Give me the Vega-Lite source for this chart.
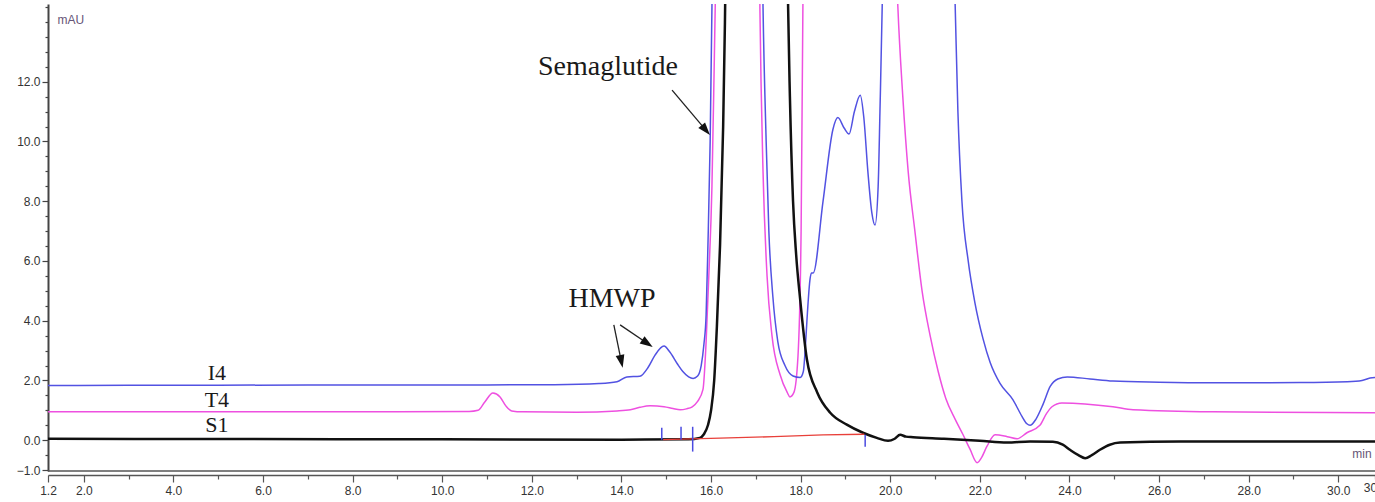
{
  "$schema": "https://vega.github.io/schema/vega-lite/v6.json",
  "width": 1327,
  "height": 467,
  "autosize": {"type": "none"},
  "padding": {"left": 48, "top": 4, "right": 0, "bottom": 31},
  "background": "white",
  "config": {"view": {"stroke": null}, "axis": {"labelOverlap": false, "labelFlush": false, "labelBound": false}},
  "resolve": {"axis": {"y": "independent"}},
  "datasets": {
    "I4": [
      {"t": 1.2, "v": 1.83}, {"t": 3.0, "v": 1.84}, {"t": 5.0, "v": 1.84}, {"t": 7.0, "v": 1.85}, {"t": 9.0, "v": 1.85},
      {"t": 11.0, "v": 1.85}, {"t": 12.5, "v": 1.86}, {"t": 13.5, "v": 1.9}, {"t": 13.9, "v": 1.96}, {"t": 14.12, "v": 2.12},
      {"t": 14.41, "v": 2.14}, {"t": 14.6, "v": 2.45}, {"t": 14.75, "v": 2.85}, {"t": 14.95, "v": 3.15}, {"t": 15.08, "v": 2.95},
      {"t": 15.25, "v": 2.55}, {"t": 15.37, "v": 2.3}, {"t": 15.5, "v": 2.12}, {"t": 15.6, "v": 2.07}, {"t": 15.7, "v": 2.15},
      {"t": 15.78, "v": 2.5}, {"t": 15.84, "v": 3.2}, {"t": 15.89, "v": 4.2}, {"t": 15.93, "v": 6.5}, {"t": 15.98, "v": 10.0},
      {"t": 16.02, "v": 14.5}, {"t": 16.15, "v": 40}, {"t": 16.6, "v": 60}, {"t": 17.0, "v": 40}, {"t": 17.16, "v": 14.5},
      {"t": 17.23, "v": 10.0}, {"t": 17.29, "v": 7.0}, {"t": 17.38, "v": 4.8}, {"t": 17.49, "v": 3.3}, {"t": 17.65, "v": 2.5},
      {"t": 17.83, "v": 2.15}, {"t": 17.99, "v": 2.1}, {"t": 18.06, "v": 2.3}, {"t": 18.1, "v": 3.0}, {"t": 18.14, "v": 4.0},
      {"t": 18.21, "v": 5.4}, {"t": 18.24, "v": 5.6}, {"t": 18.28, "v": 5.6}, {"t": 18.5, "v": 8.0}, {"t": 18.72, "v": 10.4},
      {"t": 18.83, "v": 10.8}, {"t": 18.97, "v": 10.45}, {"t": 19.08, "v": 10.25}, {"t": 19.2, "v": 11.0}, {"t": 19.33, "v": 11.55},
      {"t": 19.41, "v": 10.8}, {"t": 19.5, "v": 9.0}, {"t": 19.59, "v": 7.6}, {"t": 19.66, "v": 7.2}, {"t": 19.73, "v": 8.5},
      {"t": 19.77, "v": 11.0}, {"t": 19.82, "v": 14.5}, {"t": 20.0, "v": 40}, {"t": 21.0, "v": 40}, {"t": 21.45, "v": 14.5},
      {"t": 21.51, "v": 11.0}, {"t": 21.6, "v": 8.0}, {"t": 21.74, "v": 6.0}, {"t": 21.89, "v": 4.6}, {"t": 22.07, "v": 3.4},
      {"t": 22.23, "v": 2.6}, {"t": 22.45, "v": 1.9}, {"t": 22.74, "v": 1.35}, {"t": 22.94, "v": 0.8}, {"t": 23.05, "v": 0.55},
      {"t": 23.12, "v": 0.5}, {"t": 23.25, "v": 0.7}, {"t": 23.41, "v": 1.2}, {"t": 23.57, "v": 1.8}, {"t": 23.74, "v": 2.05},
      {"t": 23.95, "v": 2.12}, {"t": 24.46, "v": 2.05}, {"t": 24.97, "v": 1.98}, {"t": 26.0, "v": 1.94}, {"t": 27.2, "v": 1.92},
      {"t": 29.15, "v": 1.93}, {"t": 30.2, "v": 1.96}, {"t": 30.53, "v": 2.0}, {"t": 30.71, "v": 2.08}, {"t": 30.82, "v": 2.1}
    ],
    "T4": [
      {"t": 1.2, "v": 0.95}, {"t": 5.0, "v": 0.95}, {"t": 9.0, "v": 0.95}, {"t": 10.6, "v": 0.96}, {"t": 10.8, "v": 1.0},
      {"t": 10.95, "v": 1.28}, {"t": 11.13, "v": 1.58}, {"t": 11.29, "v": 1.45}, {"t": 11.42, "v": 1.15}, {"t": 11.55, "v": 0.98},
      {"t": 11.8, "v": 0.95}, {"t": 13.0, "v": 0.94}, {"t": 13.9, "v": 0.98}, {"t": 14.2, "v": 1.02}, {"t": 14.41, "v": 1.1},
      {"t": 14.64, "v": 1.15}, {"t": 14.95, "v": 1.12}, {"t": 15.15, "v": 1.06}, {"t": 15.31, "v": 1.02}, {"t": 15.45, "v": 1.05},
      {"t": 15.58, "v": 1.12}, {"t": 15.7, "v": 1.3}, {"t": 15.82, "v": 1.7}, {"t": 15.89, "v": 3.3}, {"t": 15.95, "v": 5.5},
      {"t": 16.02, "v": 8.5}, {"t": 16.07, "v": 12.5}, {"t": 16.11, "v": 16}, {"t": 16.4, "v": 60}, {"t": 16.9, "v": 60},
      {"t": 17.09, "v": 14.5}, {"t": 17.16, "v": 9.0}, {"t": 17.25, "v": 5.5}, {"t": 17.36, "v": 3.5}, {"t": 17.54, "v": 2.2},
      {"t": 17.7, "v": 1.6}, {"t": 17.76, "v": 1.45}, {"t": 17.85, "v": 1.6}, {"t": 17.94, "v": 2.8}, {"t": 18.01, "v": 7.0},
      {"t": 18.05, "v": 14.5}, {"t": 18.4, "v": 40}, {"t": 19.8, "v": 40}, {"t": 20.17, "v": 14.5}, {"t": 20.28, "v": 11.5},
      {"t": 20.4, "v": 9.0}, {"t": 20.55, "v": 7.0}, {"t": 20.71, "v": 5.0}, {"t": 20.89, "v": 3.5}, {"t": 21.07, "v": 2.3},
      {"t": 21.24, "v": 1.4}, {"t": 21.45, "v": 0.7}, {"t": 21.62, "v": 0.2}, {"t": 21.78, "v": -0.3}, {"t": 21.94, "v": -0.75},
      {"t": 22.03, "v": -0.6}, {"t": 22.16, "v": -0.2}, {"t": 22.34, "v": 0.18}, {"t": 22.61, "v": 0.12}, {"t": 22.83, "v": 0.05},
      {"t": 23.05, "v": 0.25}, {"t": 23.34, "v": 0.5}, {"t": 23.49, "v": 0.9}, {"t": 23.61, "v": 1.12}, {"t": 23.83, "v": 1.25},
      {"t": 24.97, "v": 1.12}, {"t": 25.42, "v": 1.02}, {"t": 27.2, "v": 0.95}, {"t": 30.82, "v": 0.92}
    ],
    "S1": [
      {"t": 1.2, "v": 0.05}, {"t": 5.0, "v": 0.04}, {"t": 10.0, "v": 0.03}, {"t": 14.0, "v": 0.02}, {"t": 15.5, "v": 0.03},
      {"t": 15.75, "v": 0.08}, {"t": 15.84, "v": 0.2}, {"t": 15.93, "v": 0.5}, {"t": 16.0, "v": 1.0}, {"t": 16.07, "v": 2.0},
      {"t": 16.13, "v": 3.8}, {"t": 16.2, "v": 6.5}, {"t": 16.27, "v": 10.5}, {"t": 16.31, "v": 14}, {"t": 16.36, "v": 20},
      {"t": 16.6, "v": 80}, {"t": 17.0, "v": 120}, {"t": 17.5, "v": 80}, {"t": 17.68, "v": 20}, {"t": 17.72, "v": 14.5},
      {"t": 17.76, "v": 11.5}, {"t": 17.83, "v": 8.0}, {"t": 17.9, "v": 6.2}, {"t": 17.99, "v": 4.7}, {"t": 18.14, "v": 2.7},
      {"t": 18.37, "v": 1.6}, {"t": 18.66, "v": 0.92}, {"t": 19.03, "v": 0.52}, {"t": 19.39, "v": 0.25}, {"t": 19.7, "v": 0.08},
      {"t": 19.95, "v": -0.02}, {"t": 20.1, "v": 0.05}, {"t": 20.22, "v": 0.18}, {"t": 20.35, "v": 0.12}, {"t": 20.51, "v": 0.1},
      {"t": 21.2, "v": 0.05}, {"t": 22.0, "v": -0.02}, {"t": 22.61, "v": -0.08}, {"t": 23.12, "v": -0.04}, {"t": 23.63, "v": -0.05},
      {"t": 23.85, "v": -0.15}, {"t": 24.01, "v": -0.32}, {"t": 24.2, "v": -0.5}, {"t": 24.35, "v": -0.6}, {"t": 24.5, "v": -0.5},
      {"t": 24.68, "v": -0.32}, {"t": 24.9, "v": -0.15}, {"t": 25.13, "v": -0.08}, {"t": 26.47, "v": -0.04}, {"t": 30.82, "v": -0.04}
    ],
    "baseline": [
      {"t": 14.93, "v": 0.02}, {"t": 16.2, "v": 0.07}, {"t": 17.4, "v": 0.12}, {"t": 18.5, "v": 0.18}, {"t": 19.42, "v": 0.2}
    ],
    "integration": [
      {"t": 14.9, "lo": 0.02, "hi": 0.42}, {"t": 15.33, "lo": 0.02, "hi": 0.45},
      {"t": 15.59, "lo": -0.38, "hi": 0.45}, {"t": 19.44, "lo": -0.22, "hi": 0.18}
    ],
    "annotations": [
      {"t": 13.7, "v": 12.22, "label": "Semaglutide"},
      {"t": 13.79, "v": 4.47, "label": "HMWP"}
    ],
    "samples": [
      {"t": 4.97, "v": 2.02, "label": "I4"},
      {"t": 4.97, "v": 1.12, "label": "T4"},
      {"t": 4.97, "v": 0.28, "label": "S1"}
    ],
    "units": [
      {"t": 1.71, "v": 13.93, "label": "mAU"},
      {"t": 30.53, "v": -0.585, "label": "min"}
    ],
    "arrows": [
      {"x1": 15.13, "y1": 11.72, "x2": 15.86, "y2": 10.42, "angle": 140},
      {"x1": 13.83, "y1": 3.86, "x2": 13.99, "y2": 2.69, "angle": 168},
      {"x1": 13.97, "y1": 3.86, "x2": 14.55, "y2": 3.27, "angle": 124}
    ]
  },
  "layer": [
    {
      "data": {"name": "T4"},
      "mark": {"type": "line", "stroke": "#ee50e0", "strokeWidth": 1.5, "clip": true, "interpolate": "monotone"},
      "encoding": {
        "x": {
          "field": "t", "type": "quantitative",
          "scale": {"domain": [1.2, 30.82], "nice": false, "zero": false},
          "axis": {
            "title": null, "grid": false, "orient": "bottom", "offset": 4,
            "values": [1.2, 1.5, 2, 2.5, 3, 3.5, 4, 4.5, 5, 5.5, 6, 6.5, 7, 7.5, 8, 8.5, 9, 9.5, 10, 10.5, 11, 11.5, 12, 12.5, 13, 13.5, 14, 14.5, 15, 15.5, 16, 16.5, 17, 17.5, 18, 18.5, 19, 19.5, 20, 20.5, 21, 21.5, 22, 22.5, 23, 23.5, 24, 24.5, 25, 25.5, 26, 26.5, 27, 27.5, 28, 28.5, 29, 29.5, 30, 30.5, 30.82],
            "labelExpr": "(datum.value == 1.2 || datum.value > 30.6 || datum.value % 2 == 0) ? format(datum.value, '.1f') : ''",
            "labelFlush": false, "labelOverlap": false, "labelBound": false,
            "labelFont": "Liberation Sans", "labelFontSize": 12, "labelColor": "#333", "labelPadding": 3,
            "domainColor": "#555", "domainWidth": 1.5, "tickColor": "#555", "tickWidth": 1.2,
            "tickSize": {"condition": {"test": "datum.value % 2 == 0 || datum.value == 1.2", "value": 7}, "value": 4}
          }
        },
        "y": {
          "field": "v", "type": "quantitative",
          "scale": {"domain": [-1.03, 14.6], "nice": false, "zero": false},
          "axis": {
            "title": null, "grid": false, "orient": "left",
            "values": [-1, 0, 2, 4, 6, 8, 10, 12],
            "format": ".1f",
            "labelFlush": false, "labelOverlap": false, "labelBound": false,
            "labelFont": "Liberation Sans", "labelFontSize": 12, "labelColor": "#333", "labelPadding": 2,
            "domainColor": "#444", "domainWidth": 2, "tickColor": "#444", "tickWidth": 1.2, "tickSize": 6
          }
        }
      }
    },
    {
      "data": {"name": "I4"},
      "mark": {"type": "line", "stroke": "#5252e2", "strokeWidth": 1.5, "clip": true, "interpolate": "monotone"},
      "encoding": {"x": {"field": "t", "type": "quantitative"}, "y": {"field": "v", "type": "quantitative", "axis": null}}
    },
    {
      "data": {"name": "S1"},
      "mark": {"type": "line", "stroke": "#111111", "strokeWidth": 2.5, "clip": true, "interpolate": "monotone"},
      "encoding": {"x": {"field": "t", "type": "quantitative"}, "y": {"field": "v", "type": "quantitative", "axis": null}}
    },
    {
      "data": {"name": "baseline"},
      "mark": {"type": "line", "stroke": "#e8403a", "strokeWidth": 1.4},
      "encoding": {"x": {"field": "t", "type": "quantitative"}, "y": {"field": "v", "type": "quantitative", "axis": null}}
    },
    {
      "data": {"name": "integration"},
      "mark": {"type": "rule", "stroke": "#4a4ae0", "strokeWidth": 1.5},
      "encoding": {"x": {"field": "t", "type": "quantitative"}, "y": {"field": "lo", "type": "quantitative", "axis": null}, "y2": {"field": "hi"}}
    },
    {
      "data": {"values": [{"v": -1.03}]},
      "mark": {"type": "rule", "stroke": "#555", "strokeWidth": 1.5},
      "encoding": {
        "y": {
          "field": "v", "type": "quantitative",
          "axis": {
            "title": null, "grid": false, "orient": "left", "labels": false, "domain": false,
            "values": [-0.5, 0.5, 1, 1.5, 2.5, 3, 3.5, 4.5, 5, 5.5, 6.5, 7, 7.5, 8.5, 9, 9.5, 10.5, 11, 11.5, 12.5, 13, 13.5, 14, 14.5],
            "tickColor": "#444", "tickWidth": 1.2, "tickSize": 3
          }
        }
      }
    },
    {
      "data": {"name": "arrows"},
      "mark": {"type": "rule", "stroke": "#222", "strokeWidth": 1.3},
      "encoding": {
        "x": {"field": "x1", "type": "quantitative"}, "y": {"field": "y1", "type": "quantitative", "axis": null},
        "x2": {"field": "x2"}, "y2": {"field": "y2"}
      }
    },
    {
      "data": {"name": "arrows"},
      "mark": {"type": "point", "shape": "M0,-1L-0.55,0.6L0.55,0.6Z", "filled": true, "fill": "#111", "opacity": 1, "size": 256, "strokeWidth": 0},
      "encoding": {
        "x": {"field": "x2", "type": "quantitative"}, "y": {"field": "y2", "type": "quantitative", "axis": null},
        "angle": {"field": "angle", "type": "quantitative", "scale": null}
      }
    },
    {
      "data": {"name": "annotations"},
      "mark": {"type": "text", "font": "Liberation Serif", "fontSize": 28, "fill": "#1a1a1a", "align": "center", "baseline": "alphabetic"},
      "encoding": {"x": {"field": "t", "type": "quantitative"}, "y": {"field": "v", "type": "quantitative", "axis": null}, "text": {"field": "label"}}
    },
    {
      "data": {"name": "samples"},
      "mark": {"type": "text", "font": "Liberation Serif", "fontSize": 22, "fill": "#1a1a1a", "align": "center", "baseline": "alphabetic"},
      "encoding": {"x": {"field": "t", "type": "quantitative"}, "y": {"field": "v", "type": "quantitative", "axis": null}, "text": {"field": "label"}}
    },
    {
      "data": {"name": "units"},
      "mark": {"type": "text", "font": "Liberation Sans", "fontSize": 12, "fill": "#665577", "align": "center", "baseline": "alphabetic"},
      "encoding": {"x": {"field": "t", "type": "quantitative"}, "y": {"field": "v", "type": "quantitative", "axis": null}, "text": {"field": "label"}}
    }
  ]
}
